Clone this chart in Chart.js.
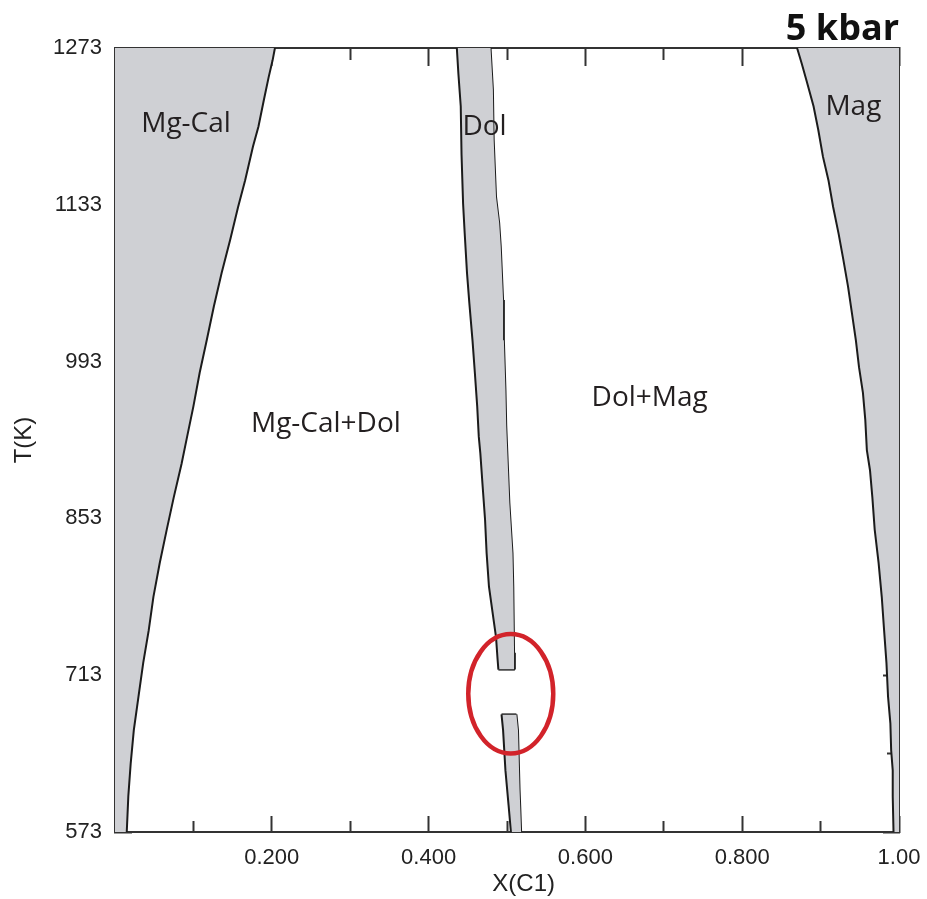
<!DOCTYPE html>
<html>
<head>
<meta charset="utf-8">
<script src="https://cdn.jsdelivr.net/npm/chart.js@4.4.1/dist/chart.umd.min.js"></script>
<style>
html,body{margin:0;padding:0;background:#ffffff;}
canvas{display:block;}
</style>
</head>
<body>
<canvas id="c" width="927" height="899"></canvas>
<script>
// ---------- tick values & labels ----------
const xMajorTicks = [0.2, 0.4, 0.6, 0.8, 1.0];
const xMajorLabels = ['0.200', '0.400', '0.600', '0.800', '1.00'];
const xMinorTicks = [0.1, 0.3, 0.5, 0.7, 0.9];
const yMajorTicks = [573, 713, 853, 993, 1133, 1273];
const yMajorLabels = ['573', '713', '853', '993', '1133', '1273'];
const yMinorTicks = [643, 783, 923, 1063, 1203];

// ---------- phase boundaries (X(C1), T in K) ----------
const mgCalT = [1273, 1262, 1247, 1227, 1203, 1185, 1155, 1131, 1102, 1072, 1042, 1012, 983, 953, 926, 902, 872, 843, 813, 783, 753, 724, 694, 664, 634, 605, 573];
const mgCalX = [0.204, 0.201, 0.196, 0.190, 0.183, 0.176, 0.166, 0.157, 0.147, 0.136, 0.126, 0.117, 0.108, 0.100, 0.092, 0.085, 0.075, 0.066, 0.057, 0.049, 0.043, 0.036, 0.030, 0.024, 0.020, 0.017, 0.015];

const magT = [1273, 1259, 1244, 1221, 1200, 1176, 1155, 1131, 1107, 1084, 1060, 1036, 1012, 988, 965, 941, 914, 896, 872, 843, 813, 783, 753, 724, 694, 670, 646, 628, 605, 573];
const magX = [0.870, 0.876, 0.882, 0.891, 0.897, 0.903, 0.910, 0.916, 0.923, 0.929, 0.935, 0.940, 0.945, 0.949, 0.954, 0.957, 0.959, 0.963, 0.966, 0.969, 0.974, 0.978, 0.981, 0.984, 0.986, 0.989, 0.990, 0.992, 0.992, 0.993];

const dolUpperLeftT = [1273, 1250, 1221, 1178, 1134, 1108, 1072, 1045, 1012, 983, 953, 926, 911, 881, 852, 822, 792, 762, 747, 727, 718];
const dolUpperLeftX = [0.436, 0.438, 0.441, 0.442, 0.444, 0.446, 0.449, 0.452, 0.456, 0.459, 0.462, 0.464, 0.466, 0.469, 0.472, 0.474, 0.477, 0.483, 0.486, 0.488, 0.489];
const dolUpperRightT = [1273, 1236, 1191, 1140, 1117, 1096, 1048, 1012, 968, 936, 867, 822, 792, 733, 718];
const dolUpperRightX = [0.479, 0.482, 0.483, 0.486, 0.490, 0.492, 0.495, 0.496, 0.498, 0.499, 0.503, 0.507, 0.508, 0.509, 0.510];

const dolLowerLeftT = [678, 664, 628, 597, 573];
const dolLowerLeftX = [0.493, 0.495, 0.498, 0.502, 0.505];
const dolLowerRightT = [678, 664, 611, 593, 573];
const dolLowerRightX = [0.512, 0.514, 0.516, 0.517, 0.518];

// ---------- annotations ----------
const regionNames = ['Mg-Cal', 'Dol', 'Mag', 'Mg-Cal+Dol', 'Dol+Mag'];
const regionX = [0.0906, 0.4713, 0.9418, 0.269, 0.682];
const regionT = [1198, 1195, 1213, 930, 953];
const gapCenter = {x: 0.5048, t: 696.4};
const gapRadius = {x: 0.0542, t: 53.3};

// ---------- styles ----------
const FILL = '#cfd0d4';
const EDGE = '#1b1b1b';
const AXIS = '#333333';
const TEXT = '#222222';
const tickFont = {family: "'Liberation Sans', Arial, sans-serif", size: 22};
const axisTitleFont = {family: "'Liberation Sans', Arial, sans-serif", size: 24};

function pts(xs, ts) { return xs.map((x, i) => ({x: x, y: ts[i]})); }

function axis(o) {
  const isX = o.axis === 'x';
  return {
    type: 'linear',
    axis: o.axis,
    position: o.position,
    min: isX ? 0 : 573,
    max: isX ? 1 : 1273,
    weight: o.weight,
    z: 1,
    afterBuildTicks: s => { s.ticks = o.ticks.map(v => ({value: v})); },
    afterFit: s => {
      if (isX) { s.height = o.size; } else { s.width = o.size; }
      s.paddingLeft = 0; s.paddingRight = 0; s.paddingTop = 0; s.paddingBottom = 0;
    },
    grid: {display: true, drawOnChartArea: false, drawTicks: true, tickLength: -o.len, tickWidth: 2, tickColor: AXIS},
    border: {display: true, color: AXIS, width: 2},
    ticks: o.labels ? {
      display: true, autoSkip: false, maxRotation: 0, minRotation: 0,
      padding: o.pad, color: TEXT, font: tickFont,
      callback: (v, i) => o.labels[i]
    } : {display: false},
    title: o.title ? {display: true, text: o.title, color: TEXT, font: axisTitleFont, padding: o.titlePad} : {display: false}
  };
}

const base = {pointRadius: 0, pointHoverRadius: 0, borderColor: EDGE, borderWidth: 2, backgroundColor: FILL, tension: 0, xAxisID: 'x', yAxisID: 'y'};

const annotate = {
  id: 'annotate',
  afterDatasetsDraw(chart) {
    const ctx = chart.ctx;
    const xs = chart.scales.x, ys = chart.scales.y;
    ctx.save();
    const cx = xs.getPixelForValue(gapCenter.x);
    const cy = ys.getPixelForValue(gapCenter.t);
    const rx = Math.abs(xs.getPixelForValue(gapCenter.x + gapRadius.x) - cx);
    const ry = Math.abs(ys.getPixelForValue(gapCenter.t + gapRadius.t) - cy);
    ctx.beginPath();
    ctx.ellipse(cx, cy, rx, ry, 0, 0, Math.PI * 2);
    ctx.strokeStyle = '#d2232a';
    ctx.lineWidth = 4.5;
    ctx.stroke();
    ctx.fillStyle = '#231f20';
    ctx.font = "28px 'Open Sans', sans-serif";
    ctx.textAlign = 'center';
    ctx.textBaseline = 'alphabetic';
    regionNames.forEach((n, i) => {
      ctx.fillText(n, xs.getPixelForValue(regionX[i]), ys.getPixelForValue(regionT[i]));
    });
    ctx.restore();
  }
};

new Chart(document.getElementById('c'), {
  type: 'line',
  data: {
    datasets: [
      Object.assign({}, base, {label: 'Mg-Cal', data: pts(mgCalX, mgCalT), fill: {value: 0}}),
      Object.assign({}, base, {label: 'Mag', data: pts(magX, magT), fill: {value: 1}}),
      Object.assign({}, base, {label: 'Dol (upper, left)', data: pts(dolUpperLeftX, dolUpperLeftT), fill: '+1'}),
      Object.assign({}, base, {label: 'Dol (upper, right)', data: pts(dolUpperRightX, dolUpperRightT), fill: false}),
      Object.assign({}, base, {label: 'Dol (upper, cap)', fill: false, data: [
        {x: dolUpperLeftX[dolUpperLeftX.length - 1], y: dolUpperLeftT[dolUpperLeftT.length - 1]},
        {x: dolUpperRightX[dolUpperRightX.length - 1], y: dolUpperRightT[dolUpperRightT.length - 1]}
      ]}),
      Object.assign({}, base, {label: 'Dol (lower, left)', data: pts(dolLowerLeftX, dolLowerLeftT), fill: '+1'}),
      Object.assign({}, base, {label: 'Dol (lower, right)', data: pts(dolLowerRightX, dolLowerRightT), fill: false}),
      Object.assign({}, base, {label: 'Dol (lower, cap)', fill: false, data: [
        {x: dolLowerLeftX[0], y: dolLowerLeftT[0]},
        {x: dolLowerRightX[0], y: dolLowerRightT[0]}
      ]})
    ]
  },
  options: {
    indexAxis: 'y',
    responsive: false,
    animation: false,
    devicePixelRatio: 1,
    events: [],
    layout: {padding: {left: 0, right: 28, top: 0, bottom: 0}},
    plugins: {
      legend: {display: false},
      tooltip: {enabled: false},
      title: {
        display: true, text: '5 kbar', align: 'end', color: '#111111',
        font: {family: "'Open Sans', sans-serif", size: 36, weight: 'bold', lineHeight: 1},
        padding: {top: 12, bottom: 0}
      }
    },
    scales: {
      x: axis({axis: 'x', position: 'bottom', ticks: xMajorTicks, labels: xMajorLabels, len: 16, weight: 1, size: 67, pad: 29,
               title: '     X(C1)', titlePad: {top: 0, bottom: 0}}),
      y: axis({axis: 'y', position: 'left', ticks: yMajorTicks, labels: yMajorLabels, len: 17, weight: 1, size: 115, pad: 30,
               title: 'T(K)', titlePad: {top: 10, bottom: 0}}),
      xMinor: axis({axis: 'x', position: 'bottom', ticks: xMinorTicks, len: 11, weight: 0, size: 0}),
      yMinor: axis({axis: 'y', position: 'left', ticks: yMinorTicks, len: 11, weight: 0, size: 0}),
      xTop: axis({axis: 'x', position: 'top', ticks: xMajorTicks, len: 18, weight: 1, size: 0}),
      xTopMinor: axis({axis: 'x', position: 'top', ticks: xMinorTicks, len: 12, weight: 0, size: 0}),
      yRight: axis({axis: 'y', position: 'right', ticks: yMajorTicks, len: 16, weight: 1, size: 0}),
      yRightMinor: axis({axis: 'y', position: 'right', ticks: yMinorTicks, len: 12, weight: 0, size: 0})
    }
  },
  plugins: [annotate]
});
</script>
</body>
</html>
